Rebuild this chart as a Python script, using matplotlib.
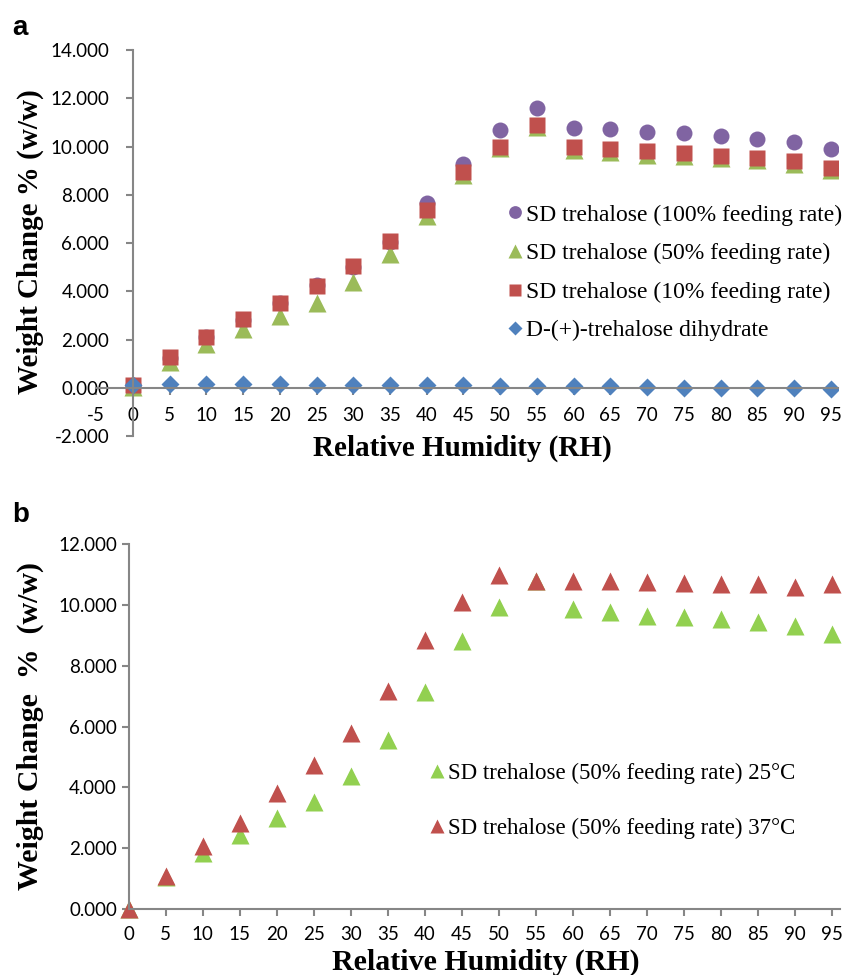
import numpy as np
import matplotlib
matplotlib.use("Agg")
import matplotlib.pyplot as plt

plt.rcParams["axes.unicode_minus"] = False

# relative humidity steps (%)
rh = np.arange(0, 100, 5)

# panel a: weight change % (w/w)
sd_100 = [0.10, 1.25, 2.12, 2.82, 3.50, 4.27, 5.00, 6.05, 7.65, 9.28, 10.67, 11.60,
          10.78, 10.71, 10.60, 10.54, 10.43, 10.30, 10.19, 9.89]
sd_50 = [0.05, 1.05, 1.83, 2.43, 2.98, 3.52, 4.38, 5.55, 7.13, 8.80, 9.94, 10.80,
         9.87, 9.78, 9.65, 9.59, 9.52, 9.43, 9.29, 9.03]
sd_10 = [0.10, 1.28, 2.10, 2.85, 3.52, 4.20, 5.05, 6.08, 7.36, 8.94, 9.99, 10.89,
         10.00, 9.89, 9.80, 9.72, 9.62, 9.52, 9.40, 9.10]
dihydrate = [0.10, 0.15, 0.15, 0.14, 0.14, 0.12, 0.12, 0.10, 0.11, 0.10, 0.08, 0.08,
             0.08, 0.06, 0.04, 0.01, 0.00, 0.00, -0.03, -0.07]

# panel b: 50% feeding rate at two temperatures
sd_25c = [0.00, 1.05, 1.83, 2.43, 2.98, 3.52, 4.38, 5.55, 7.13, 8.80, 9.94, 10.80,
          9.87, 9.78, 9.65, 9.59, 9.52, 9.43, 9.29, 9.03]
sd_37c = [0.00, 1.08, 2.08, 2.83, 3.83, 4.73, 5.79, 7.16, 8.85, 10.08, 10.98, 10.77,
          10.77, 10.77, 10.75, 10.72, 10.69, 10.69, 10.58, 10.69]

labels_a = ["SD trehalose (100% feeding rate)", "SD trehalose (50% feeding rate)",
            "SD trehalose (10% feeding rate)", "D-(+)-trehalose dihydrate"]
labels_b = ["SD trehalose (50% feeding rate) 25\u00b0C",
            "SD trehalose (50% feeding rate) 37\u00b0C"]

PURPLE = "#8064A2"
GREEN = "#9BBB59"
RED = "#C0504D"
BLUE = "#4F81BD"
LIME = "#92D050"
AXIS = "#868686"

tick_font = "Lato"
serif = "Liberation Serif"


def style_axes(ax, xpad, ypad):
    for s in ("top", "right"):
        ax.spines[s].set_visible(False)
    for s in ("left", "bottom"):
        ax.spines[s].set_color(AXIS)
        ax.spines[s].set_linewidth(1.5)
        ax.spines[s].set_position(("data", 0))
    ax.tick_params(direction="out", length=5, width=1.5, color=AXIS,
                   labelsize=13.5)
    ax.tick_params(axis="x", pad=xpad)
    ax.tick_params(axis="y", pad=ypad)
    for lab in ax.get_xticklabels() + ax.get_yticklabels():
        lab.set_family(tick_font)
    ax.yaxis.set_major_formatter(matplotlib.ticker.FormatStrFormatter("%.3f"))


fig = plt.figure(figsize=(8.44, 9.75), dpi=100)

# ---- panel a ----
ax1 = fig.add_axes([0.114, 0.5528, 0.879, 0.3959])
ax1.plot(rh, sd_100, "o", color=PURPLE, ms=11.5, mec="none", label=labels_a[0])
ax1.plot(rh, sd_50, "^", color=GREEN, ms=12.5, mec="none", label=labels_a[1])
ax1.plot(rh, sd_10, "s", color=RED, ms=11.5, mec="none", label=labels_a[2])
ax1.plot(rh, dihydrate, "D", color=BLUE, ms=9, mec="none", label=labels_a[3])
ax1.set_xlim(-5, 96)
ax1.set_ylim(-2, 14)
ax1.set_xticks(np.arange(-5, 100, 5))
ax1.set_yticks(np.arange(-2, 15, 2))
style_axes(ax1, xpad=9, ypad=12)
ax1.legend(loc="upper left", bbox_to_anchor=(0.541, 0.625), frameon=False,
           prop={"family": serif, "size": 17}, handlelength=0.7,
           handletextpad=0.1, labelspacing=0.72, markerscale=0.8,
           borderaxespad=0)

# ---- panel b ----
ax2 = fig.add_axes([0.1526, 0.0677, 0.8424, 0.3743])
ax2.plot(rh, sd_25c, "^", color=LIME, ms=12.5, mec="none", label=labels_b[0],
         clip_on=False)
ax2.plot(rh, sd_37c, "^", color=RED, ms=12.5, mec="none", label=labels_b[1],
         clip_on=False)
ax2.set_xlim(0, 96)
ax2.set_ylim(0, 12)
ax2.set_xticks(np.arange(0, 100, 5))
ax2.set_yticks(np.arange(0, 13, 2))
style_axes(ax2, xpad=7, ypad=3.5)
ax2.legend(loc="upper left", bbox_to_anchor=(0.41, 0.425), frameon=False,
           prop={"family": serif, "size": 16.5}, handlelength=0.7,
           handletextpad=0.1, labelspacing=1.45, markerscale=0.8,
           borderaxespad=0)

# axis titles and panel letters
fig.text(30 / 844, 1 - 242 / 975, "Weight Change % (w/w)", rotation=90,
         ha="center", va="center", family=serif, weight="bold", size=21)
fig.text(462 / 844, 1 - 448 / 975, "Relative Humidity (RH)",
         ha="center", va="center", family=serif, weight="bold", size=21)
fig.text(30 / 844, 1 - 726 / 975, "Weight Change  %  (w/w)", rotation=90,
         ha="center", va="center", family=serif, weight="bold", size=21.5)
fig.text(486 / 844, 1 - 962 / 975, "Relative Humidity (RH)",
         ha="center", va="center", family=serif, weight="bold", size=21.5)
fig.text(12 / 844, 1 - 28 / 975, "a", ha="left", va="center",
         family="Liberation Sans", weight="bold", size=20)
fig.text(12 / 844, 1 - 515 / 975, "b", ha="left", va="center",
         family="Liberation Sans", weight="bold", size=20)

fig.savefig("out.png", dpi=100)
